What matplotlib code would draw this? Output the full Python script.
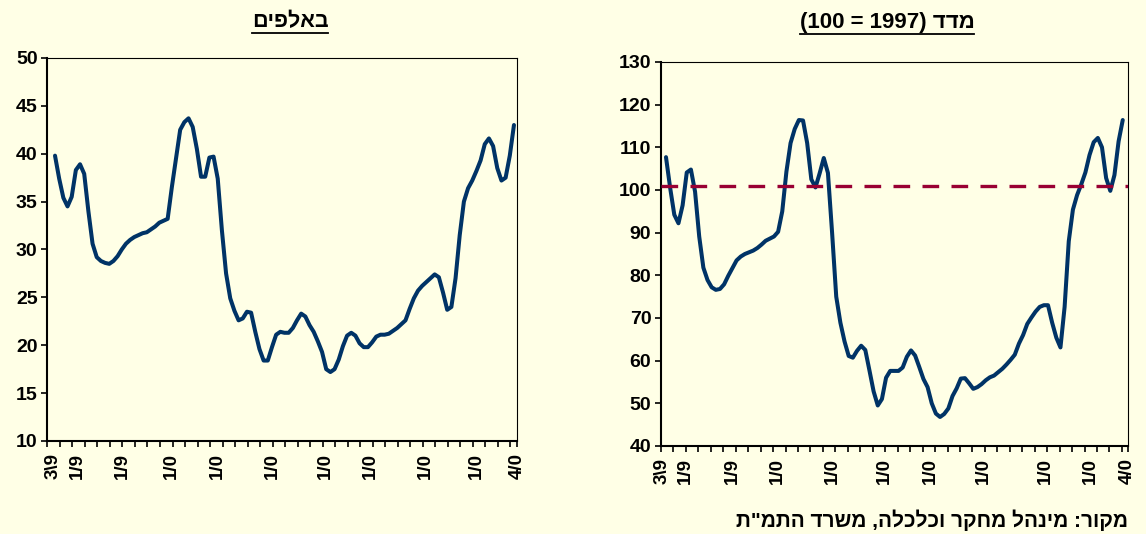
import numpy as np
import matplotlib
matplotlib.use("Agg")
import matplotlib.pyplot as plt
from matplotlib.lines import Line2D

plt.rcParams['font.family'] = ['Arimo', 'Liberation Sans', 'DejaVu Sans']
plt.rcParams['font.weight'] = 'bold'

BG = '#FFFFE6'
LINE = '#003366'
DASH = '#990033'

# month index of each observation (same grid in both panels)
months = np.arange(2, 113)

# left panel: thousands
workers = [39.8, 37.4, 35.4, 34.5, 35.5, 38.3, 38.9, 37.9, 34.0, 30.6,
           29.2, 28.8, 28.6, 28.5, 28.8, 29.3, 30.0, 30.6, 31.0, 31.3,
           31.5, 31.7, 31.8, 32.1, 32.4, 32.8, 33.0, 33.2, 36.5, 39.5,
           42.5, 43.3, 43.7, 42.8, 40.5, 37.6, 37.6, 39.6, 39.7, 37.4,
           32.0, 27.5, 24.9, 23.6, 22.6, 22.8, 23.5, 23.4, 21.4, 19.6,
           18.4, 18.4, 19.8, 21.1, 21.4, 21.3, 21.3, 21.8, 22.6, 23.3,
           23.0, 22.1, 21.4, 20.4, 19.3, 17.5, 17.2, 17.5, 18.5, 19.9,
           21.0, 21.3, 21.0, 20.2, 19.8, 19.8, 20.3, 20.9, 21.1, 21.1,
           21.2, 21.5, 21.8, 22.2, 22.6, 23.8, 24.9, 25.7, 26.2, 26.6,
           27.0, 27.4, 27.1, 25.5, 23.7, 24.0, 27.0, 31.5, 35.0, 36.4,
           37.2, 38.2, 39.3, 41.0, 41.6, 40.8, 38.5, 37.2, 37.5, 39.8,
           43.0]

# right panel: index, 1997 = 100
index = [107.7, 100.5, 94.2, 92.2, 96.4, 104.1, 104.8, 99.6, 89.1, 81.8,
         78.9, 77.2, 76.6, 76.8, 77.9, 79.9, 81.7, 83.5, 84.4, 85.0,
         85.4, 85.8, 86.4, 87.2, 88.1, 88.6, 89.1, 90.2, 95.0, 104.3,
         111.0, 114.3, 116.4, 116.3, 111.0, 102.5, 100.6, 103.9, 107.5, 104.0,
         90.0, 75.0, 68.9, 64.5, 61.1, 60.7, 62.3, 63.5, 62.5, 57.7,
         52.8, 49.5, 51.0, 56.0, 57.6, 57.6, 57.6, 58.4, 60.9, 62.4,
         61.2, 58.5, 55.7, 53.8, 50.0, 47.6, 46.8, 47.5, 48.8, 51.7,
         53.5, 55.8, 55.9, 54.7, 53.4, 53.8, 54.5, 55.4, 56.1, 56.5,
         57.3, 58.1, 59.1, 60.2, 61.4, 64.0, 66.0, 68.6, 70.1, 71.5,
         72.6, 73.0, 73.0, 68.9, 65.4, 63.1, 72.6, 88.0, 95.4, 98.8,
         101.3, 104.1, 108.2, 111.2, 112.2, 110.0, 102.8, 99.8, 103.5, 111.4,
         116.4]
index_ref = 101

# truncated date labels as they appear in the original, and where they sit
tick_labels = ['3\\9', '1/9', '1/9', '1/0', '1/0', '1/0', '1/0', '1/0', '1/0', '1/0', '4/0']
left_tick_pos = [1.5, 7.3, 18.1, 30.0, 40.8, 54.0, 66.7, 77.5, 90.7, 103.1, 112.7]
right_tick_pos = [1.0, 6.6, 17.9, 28.9, 42.1, 54.6, 65.6, 78.4, 93.4, 104.2, 113.1]

# Hebrew written in visual (left-to-right) order, matplotlib has no bidi
left_title = 'םיפלאב'
right_title = '(100 = 1997) דדמ'
source = 'ת"מתה דרשמ ,הלכלכו רקחמ להנימ :רוקמ'


def style(ax, xlim, ylim, ystep, tick_pos):
    ax.set_facecolor(BG)
    ax.set_xlim(*xlim)
    ax.set_ylim(*ylim)
    ax.set_yticks(np.arange(ylim[0], ylim[1] + 1, ystep))
    ax.set_xticks(tick_pos)
    ax.set_xticklabels(tick_labels, rotation=90)
    ax.set_xticks(np.append(np.arange(xlim[0], xlim[1], 3), xlim[1]), minor=True)
    ax.tick_params(axis='x', which='major', length=0, pad=9, labelsize=13.5)
    ax.tick_params(axis='x', which='minor', length=4.5, width=1.2)
    ax.tick_params(axis='y', length=4, width=1.2, labelsize=14, pad=3)
    for s in ['left', 'bottom']:
        ax.spines[s].set_linewidth(1.5)
    for s in ['top', 'right']:
        ax.spines[s].set_linewidth(0.8)


fig = plt.figure(figsize=(11.46, 5.34), dpi=100, facecolor=BG)
ax1 = fig.add_axes([0.0413, 0.1742, 0.4101, 0.7172])
ax2 = fig.add_axes([0.5768, 0.1648, 0.4078, 0.7191])

ax1.plot(months, workers, color=LINE, lw=2.9, solid_joinstyle='round', solid_capstyle='round')
style(ax1, (0.16, 112.8), (10, 50), 5, left_tick_pos)

ax2.plot(months, index, color=LINE, lw=2.9, solid_joinstyle='round', solid_capstyle='round', zorder=2)
ax2.axhline(index_ref, color=DASH, lw=2.4, dashes=(5, 3.7), zorder=3)
style(ax2, (0.8, 113.35), (40, 130), 10, right_tick_pos)

titles = [
    fig.text(290 / 1146, 1 - 27 / 534, left_title, ha='center', va='baseline', fontsize=15.5),
    fig.text(887 / 1146, 1 - 28 / 534, right_title, ha='center', va='baseline', fontsize=16),
]
fig.text(1128 / 1146, 1 - 520 / 534, source, ha='right', va='center', fontsize=15)

# underline the titles
fig.canvas.draw()
inv = fig.transFigure.inverted()
for t in titles:
    bb = t.get_window_extent()
    (x0, y0), (x1, _) = inv.transform([(bb.x0, bb.y0 - 1), (bb.x1, bb.y0)])
    fig.add_artist(Line2D([x0, x1], [y0, y0], color='black', lw=1.3, transform=fig.transFigure))

fig.savefig('out.png', dpi=100, facecolor=BG)
